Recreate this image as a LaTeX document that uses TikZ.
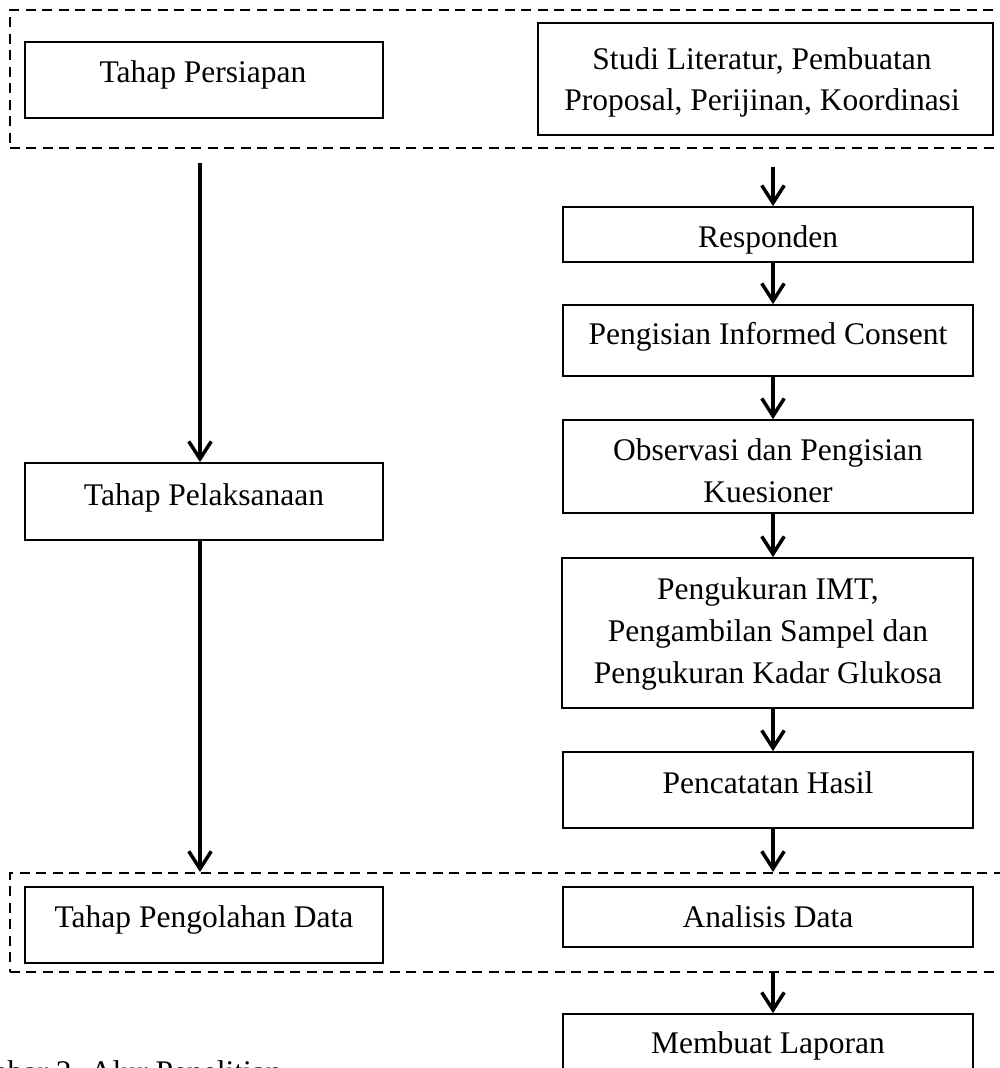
\documentclass[tikz,border=0pt]{standalone}
\usepackage{fontspec}
\setmainfont{Liberation Serif}
\usetikzlibrary{arrows.meta}
\begin{document}
\begin{tikzpicture}[x=0.4pt,y=-0.4pt,
  box/.style={draw, line width=0.7pt, inner sep=0pt},
  grp/.style={draw, line width=0.8pt, dash pattern=on 4pt off 2.6pt, inner sep=0pt},
  txt/.style={inner sep=0pt, align=center, font=\fontsize{12.6}{16.7}\selectfont},
  arr/.style={line width=1.4pt, -{Straight Barb[length=7pt,width=9pt]}}]
\useasboundingbox (0,0) rectangle (1000,1068);
\clip (0,0) rectangle (1000,1068);

% group (dashed) frames
\node[grp, minimum width=400pt, minimum height=55.2pt] (grp1) at (510,79) {};
\node[grp, minimum width=400pt, minimum height=39.6pt] (grp2) at (510,922.5) {};

% left column boxes
\node[box, minimum width=143.2pt, minimum height=30.4pt] (persiapan) at (204,80) {};
\node[box, minimum width=143.2pt, minimum height=30.8pt] (pelaksanaan) at (204,501.5) {};
\node[box, minimum width=143.2pt, minimum height=30.4pt] (pengolahan) at (204,925) {};

% right column boxes
\node[box, minimum width=182pt, minimum height=44.8pt] (studi) at (765.5,79) {};
\node[box, minimum width=164pt, minimum height=22pt] (responden) at (768,234.5) {};
\node[box, minimum width=164pt, minimum height=28.4pt] (consent) at (768,340.5) {};
\node[box, minimum width=164pt, minimum height=37.2pt] (observasi) at (768,466.5) {};
\node[box, minimum width=164.4pt, minimum height=60pt] (pengukuran) at (767.5,633) {};
\node[box, minimum width=164pt, minimum height=30.4pt] (pencatatan) at (768,790) {};
\node[box, minimum width=164pt, minimum height=24pt] (analisis) at (768,917) {};
\node[box, minimum width=164pt, minimum height=30.4pt] (laporan) at (768,1052) {};

% texts
\node[txt, anchor=base] (tpersiapan) at (203,82) {Tahap Persiapan};
\node[txt, anchor=base] (tpelaksanaan) at (204,505) {Tahap Pelaksanaan};
\node[txt, anchor=base] (tpengolahan) at (204,927) {Tahap Pengolahan Data};
\node[txt] (tstudi) at (762,82.5) {Studi Literatur, Pembuatan\\Proposal, Perijinan, Koordinasi};
\node[txt, anchor=base] (tresponden) at (768,247) {Responden};
\node[txt, anchor=base] (tconsent) at (768,344) {Pengisian Informed Consent};
\node[txt] (tobservasi) at (768,471) {Observasi dan Pengisian\\Kuesioner};
\node[txt] (tpengukuran) at (768,634) {Pengukuran IMT,\\Pengambilan Sampel dan\\Pengukuran Kadar Glukosa};
\node[txt, anchor=base] (tpencatatan) at (768,793) {Pencatatan Hasil};
\node[txt, anchor=base] (tanalisis) at (768,927) {Analisis Data};
\node[txt, anchor=base] (tlaporan) at (768,1053) {Membuat Laporan};
\node[txt, anchor=base west] (caption) at (-54,1082) {Gambar 2. Alur Penelitian};

% connector helpers
\coordinate (lx) at (200,0);
\coordinate (rx) at (773,0);
\coordinate (ls) at (200,163);
\coordinate (rs) at (773,167);

% left connectors
\draw[arr] (ls) -- (lx |- pelaksanaan.north);
\draw[arr] (lx |- pelaksanaan.south) -- (lx |- grp2.north);

% right connectors
\draw[arr] (rs) -- (rx |- responden.north);
\draw[arr] (rx |- responden.south) -- (rx |- consent.north);
\draw[arr] (rx |- consent.south) -- (rx |- observasi.north);
\draw[arr] (rx |- observasi.south) -- (rx |- pengukuran.north);
\draw[arr] (rx |- pengukuran.south) -- (rx |- pencatatan.north);
\draw[arr] (rx |- pencatatan.south) -- (rx |- grp2.north);
\draw[arr] (rx |- grp2.south) -- (rx |- laporan.north);
\end{tikzpicture}
\end{document}
